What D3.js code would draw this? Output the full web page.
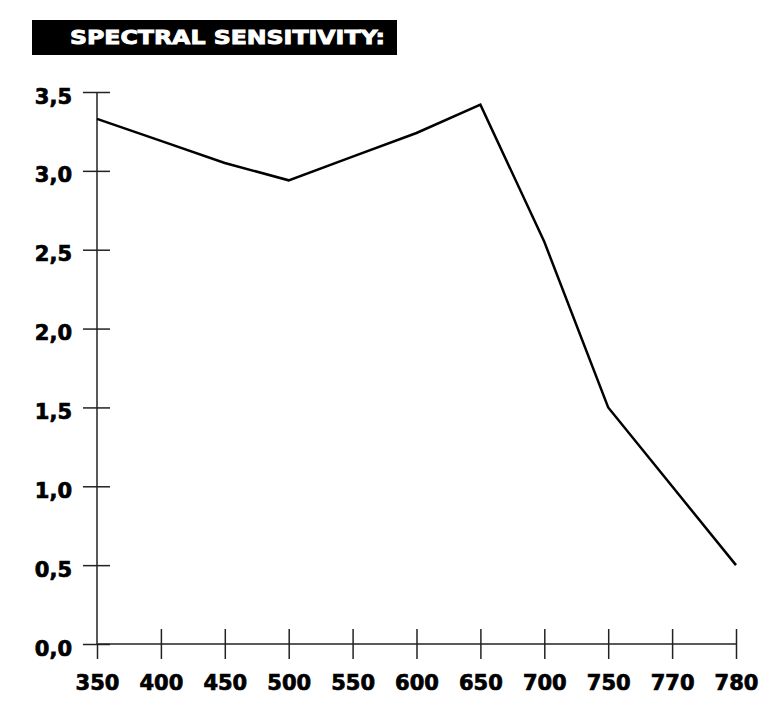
<!DOCTYPE html>
<html>
<head>
<meta charset="utf-8">
<script src="https://cdn.jsdelivr.net/npm/d3@7"></script>
<style>
body { margin: 0; background: #fff; }
text { font-family: "DejaVu Sans", sans-serif; font-weight: bold; }
</style>
</head>
<body>
<div class="chart"></div>
<script>
// wavelengths (nm) and relative sensitivity
const wavelengths = ['350', '400', '450', '500', '550', '600', '650', '700', '750', '770', '780'];
const sensitivity = [3.33, 3.19, 3.05, 2.94, 3.09, 3.24, 3.42, 2.55, 1.50, 1.00, 0.50];
const yTicks = [0, 0.5, 1, 1.5, 2, 2.5, 3, 3.5];

const width = 782, height = 714;

const svg = d3.select('.chart')
    .append('svg')
    .attr('width', width)
    .attr('height', height);

// title block
svg.append('rect')
    .attr('x', 32)
    .attr('y', 20)
    .attr('width', 365)
    .attr('height', 35)
    .style('fill', '#000');
svg.append('text')
    .attr('x', 70)
    .attr('y', 44)
    .attr('textLength', 315)
    .attr('lengthAdjust', 'spacingAndGlyphs')
    .style('fill', '#fff')
    .style('stroke', '#fff')
    .style('stroke-width', 0.9)
    .style('font-size', '20px')
    .text('SPECTRAL SENSITIVITY:');

const x = d3.scalePoint()
    .domain(wavelengths)
    .range([97, 736]);

const y = d3.scaleLinear()
    .domain([0, 3.5])
    .range([644, 92]);

// y axis
const yAxis = svg.append('g')
    .attr('transform', 'translate(97,0)')
    .call(d3.axisLeft(y)
        .tickValues(yTicks)
        .tickSize(0)
        .tickPadding(25)
        .tickFormat(d => d3.format('.1f')(d).replace('.', ',')));
yAxis.select('.domain').remove();
yAxis.selectAll('text')
    .attr('dy', 11)
    .style('font-size', '21px')
    .style('fill', '#000')
    .style('stroke', '#000')
    .style('stroke-width', 0.7);
yAxis.append('line')
    .attr('y1', y(0))
    .attr('y2', y(3.5))
    .attr('stroke', '#222')
    .attr('stroke-width', 1.5);
yAxis.selectAll('.tick')
    .append('line')
    .attr('x1', -14)
    .attr('x2', 13)
    .attr('stroke', '#222')
    .attr('stroke-width', 1.5);

// x axis
const xAxis = svg.append('g')
    .attr('transform', 'translate(0,644)')
    .call(d3.axisBottom(x)
        .tickSize(0)
        .tickPadding(0));
xAxis.select('.domain').remove();
xAxis.selectAll('text')
    .attr('y', 46)
    .attr('dy', 0)
    .style('font-size', '21px')
    .style('fill', '#000')
    .style('stroke', '#000')
    .style('stroke-width', 0.7);
xAxis.append('line')
    .attr('x1', x('350'))
    .attr('x2', x('780'))
    .attr('stroke', '#222')
    .attr('stroke-width', 1.5);
xAxis.selectAll('.tick')
    .filter(d => d !== '350')
    .append('line')
    .attr('y1', -15)
    .attr('y2', 15)
    .attr('stroke', '#222')
    .attr('stroke-width', 1.5);
xAxis.selectAll('.tick')
    .filter(d => d === '350')
    .append('line')
    .attr('y1', 0)
    .attr('y2', 15)
    .attr('stroke', '#222')
    .attr('stroke-width', 1.5);

// sensitivity line
const line = d3.line()
    .x((d, i) => x(wavelengths[i]))
    .y(d => y(d));

svg.append('path')
    .datum(sensitivity)
    .attr('fill', 'none')
    .attr('stroke', '#000')
    .attr('stroke-width', 2.5)
    .attr('d', line);
</script>
</body>
</html>
